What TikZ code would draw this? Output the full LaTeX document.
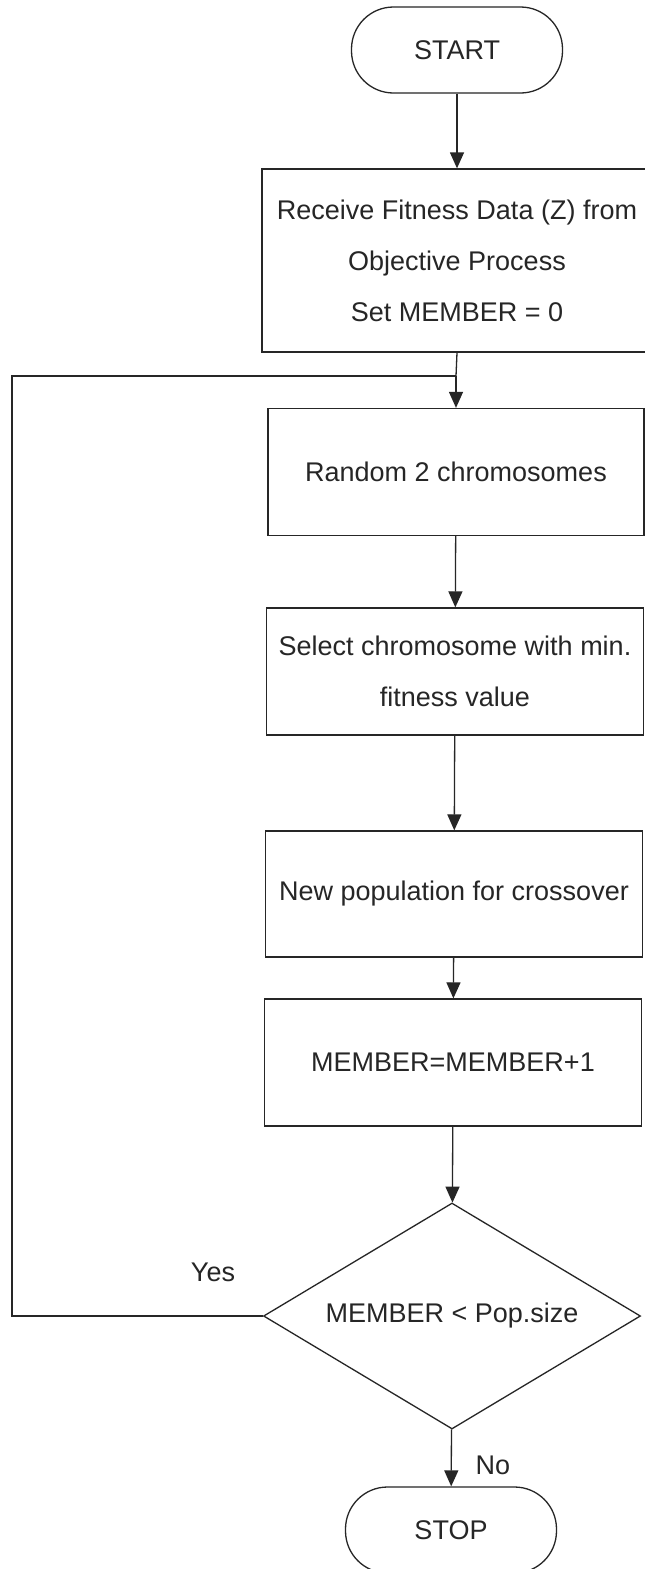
\documentclass[tikz,border=0pt]{standalone}
\usepackage{fontspec}
\setmainfont{Liberation Sans}
\usetikzlibrary{shapes.geometric,arrows.meta}
\begin{document}
\begin{tikzpicture}[x=1pt,y=-1pt,
  every node/.style={font=\fontsize{27}{51}\selectfont, text=black!85},
  procbox/.style={draw=black!85, line width=1.3pt, rectangle, minimum width=377pt, inner sep=0pt, align=center},
  term/.style={draw=black!85, line width=1.3pt, rectangle, rounded corners=42pt, minimum width=211pt, minimum height=86pt},
  decbox/.style={draw=black!85, line width=1.3pt, diamond, minimum width=377pt, minimum height=226pt, inner sep=0pt, aspect=1.668},
  conn/.style={draw=black!85, line width=1.3pt, -{Triangle[width=14pt,length=16pt]}},
  plainline/.style={draw=black!85, line width=1.3pt}
]
\useasboundingbox (0,0) rectangle (645,1569);
\fill[white] (0,0) rectangle (645,1569);

\node[term] (start) at (457,50) {START};
\node[procbox, minimum width=390pt, minimum height=183pt] (recv) at (457,260.5) {Receive Fitness Data (Z) from\\Objective Process\\Set MEMBER = 0};
\node[procbox, minimum width=376pt, minimum height=127pt] (rand) at (456,472) {Random 2 chromosomes};
\node[procbox, minimum height=127pt] (sel) at (455,671.5) {Select chromosome with min.\\fitness value};
\node[procbox, minimum height=126pt] (newp) at (454,894) {New population for crossover};
\node[procbox, minimum height=127pt] (mem) at (453,1062.5) {MEMBER=MEMBER+1};
\node[decbox] (dec) at (452,1316) {MEMBER < Pop.size};
\node[term] (stop) at (451,1530) {STOP};

\node (yes) at (213,1272) {Yes};
\node (no) at (493,1465) {No};

\coordinate (jn) at (rand.north |- 0,376);
\coordinate (lc) at (12,376);

\draw[conn] (start) -- (recv);
\draw[plainline] (recv.south) -- (jn);
\draw[conn] (jn) -- (rand.north);
\draw[conn] (rand) -- (sel);
\draw[conn] (sel) -- (newp);
\draw[conn] (newp) -- (mem);
\draw[conn] (mem) -- (dec);
\draw[conn] (dec) -- (stop);
\draw[plainline] (dec.west) -| (lc) -- (jn);
\end{tikzpicture}
\end{document}
